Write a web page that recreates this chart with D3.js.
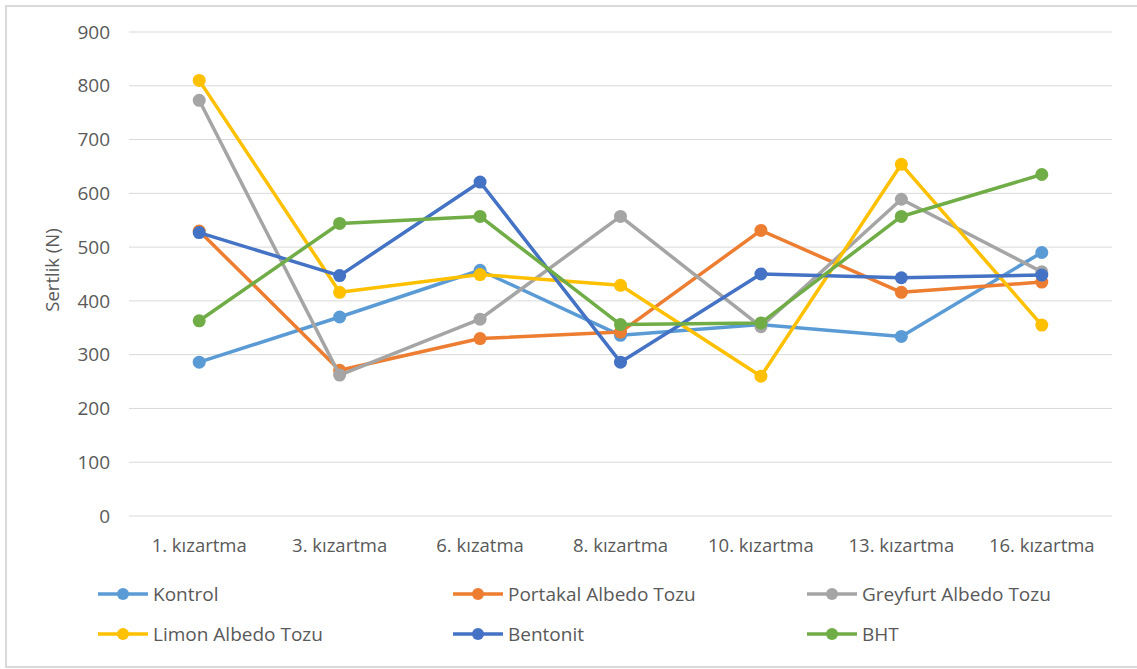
<!DOCTYPE html>
<html>
<head>
<meta charset="utf-8">
<script src="https://cdn.jsdelivr.net/npm/d3@7"></script>
<style>
  body { margin: 0; background: #fff; }
  svg { display: block; font-family: "Open Sans", "Noto Sans", sans-serif; }
</style>
</head>
<body>
<script>
const categories = ["1. kızartma", "3. kızartma", "6. kızatma", "8. kızartma", "10. kızartma", "13. kızartma", "16. kızartma"];

const kontrol = [286, 370, 457, 336, 356, 334, 490];
const portakal = [530, 271, 330, 342, 531, 416, 435];
const greyfurt = [773, 262, 366, 557, 352, 589, 454];
const limon = [810, 416, 449, 429, 260, 654, 355];
const bentonit = [527, 447, 621, 286, 450, 443, 448];
const bht = [363, 544, 557, 356, 359, 557, 635];

const seriesNames = ["Kontrol", "Portakal Albedo Tozu", "Greyfurt Albedo Tozu", "Limon Albedo Tozu", "Bentonit", "BHT"];
const yTicks = [0, 100, 200, 300, 400, 500, 600, 700, 800, 900];

const colors = ["#5B9BD5", "#ED7D31", "#A5A5A5", "#FFC000", "#4472C4", "#70AD47"];
const allSeries = [kontrol, portakal, greyfurt, limon, bentonit, bht];

const W = 1137, H = 669;
const margin = { top: 32, right: 25, bottom: 153, left: 129 };

const svg = d3.select("body")
    .append("svg")
    .attr("width", W)
    .attr("height", H);

// outer chart border (no right edge visible in the picture)
svg.append("path")
    .attr("d", `M${W},6 H6 V667 H${W}`)
    .attr("fill", "none")
    .attr("stroke", "#D9D9D9")
    .attr("stroke-width", 2);

const x = d3.scaleBand()
    .domain(categories)
    .range([margin.left, W - margin.right]);

const y = d3.scaleLinear()
    .domain([0, 900])
    .range([H - margin.bottom, margin.top]);

// gridlines
svg.append("g")
    .selectAll("line")
    .data(yTicks)
    .join("line")
    .attr("x1", margin.left)
    .attr("x2", W - margin.right)
    .attr("y1", d => y(d))
    .attr("y2", d => y(d))
    .attr("stroke", "#D9D9D9")
    .attr("stroke-width", 1);

// y tick labels
svg.append("g")
    .selectAll("text")
    .data(yTicks)
    .join("text")
    .attr("x", 110)
    .attr("y", d => y(d))
    .attr("dy", "0.35em")
    .attr("text-anchor", "end")
    .attr("fill", "#595959")
    .style("font-size", "19px")
    .text(d => d);

// x tick labels
svg.append("g")
    .selectAll("text")
    .data(categories)
    .join("text")
    .attr("x", d => x(d) + x.bandwidth() / 2)
    .attr("y", 552)
    .attr("text-anchor", "middle")
    .attr("fill", "#595959")
    .style("font-size", "18.5px")
    .text(d => d);

// y axis title
svg.append("text")
    .attr("transform", "translate(59,270) rotate(-90)")
    .attr("text-anchor", "middle")
    .attr("fill", "#595959")
    .style("font-size", "18.5px")
    .text("Sertlik (N)");

const line = d3.line()
    .x((d, i) => x(categories[i]) + x.bandwidth() / 2)
    .y(d => y(d));

allSeries.forEach((vals, s) => {
    const g = svg.append("g");
    g.append("path")
        .datum(vals)
        .attr("d", line)
        .attr("fill", "none")
        .attr("stroke", colors[s])
        .attr("stroke-width", 3.5)
        .attr("stroke-linejoin", "round");
    g.selectAll("circle")
        .data(vals)
        .join("circle")
        .attr("cx", (d, i) => x(categories[i]) + x.bandwidth() / 2)
        .attr("cy", d => y(d))
        .attr("r", 6.5)
        .attr("fill", colors[s]);
});

// legend
const legendX = [98, 453, 807];
const legendY = [594, 634];
const legend = svg.append("g")
    .selectAll("g")
    .data(seriesNames)
    .join("g")
    .attr("transform", (d, i) => `translate(${legendX[i % 3]},${legendY[Math.floor(i / 3)]})`);

legend.append("line")
    .attr("x1", 0)
    .attr("x2", 50)
    .attr("stroke", (d, i) => colors[i])
    .attr("stroke-width", 3.5);
legend.append("circle")
    .attr("cx", 25)
    .attr("r", 6)
    .attr("fill", (d, i) => colors[i]);
legend.append("text")
    .attr("x", 55)
    .attr("dy", "0.35em")
    .attr("fill", "#595959")
    .style("font-size", "19px")
    .text(d => d);
</script>
</body>
</html>
